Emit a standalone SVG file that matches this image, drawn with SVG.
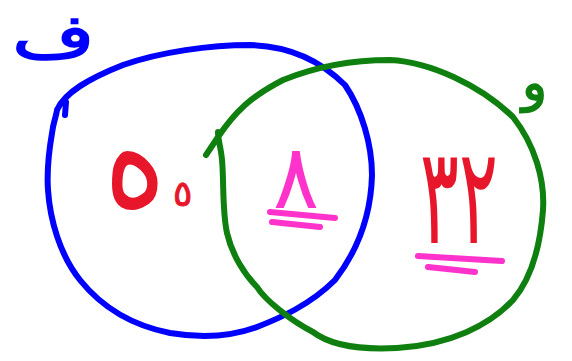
<svg xmlns="http://www.w3.org/2000/svg" width="572" height="361" viewBox="0 0 572 361">
<style>
.c{fill:none;stroke-width:6;stroke-linecap:round;stroke-linejoin:round}
.u{fill:none;stroke:#ff33cc;stroke-width:6;stroke-linecap:round}
.t{font-family:"DejaVu Sans",sans-serif;font-weight:normal}
</style>
<rect width="572" height="361" fill="#ffffff"/>
<g id="connectors">
<path id="setF" class="c" stroke="#0000ff" d="M57,110 C65,92 90,78 123,65 C160,52 210,45 250,45 C290,46 320,60 345,85 C362,110 372,145 372,175 C371,215 358,250 335,280 C310,305 280,318 257,327 C230,337 200,338 170,333 C130,325 100,305 80,280 C60,255 50,220 48,190 C46,160 52,135 53,127 C55,118 57,112 57,110 M66,102 L65,115"/>
<path id="setW" class="c" stroke="#0f800f" d="M206,155 L218,137 C235,112 250,97 283,80 C320,65 355,60 390,60 C430,62 480,85 513,117 C535,145 545,180 543,210 C540,250 530,280 513,300 C490,325 450,345 397,348 C360,350 330,345 313,332 C290,320 265,300 257,287 C245,275 232,255 227,233 C222,210 224,180 222,160 C221,148 218,140 218,132"/>
</g>
<g id="label-f"><text class="t" x="12" y="57" font-size="60" fill="#0000ff" stroke="#0000ff" stroke-width="1.5" textLength="83" lengthAdjust="spacingAndGlyphs">ف</text></g>
<g id="label-w"><text class="t" x="522" y="100" font-size="52" fill="#0f800f" stroke="#0f800f" stroke-width="1.5">و</text></g>
<g id="left-items">
<text class="t" transform="translate(104,206) scale(1,1.7)" x="0" y="0" font-size="90" fill="#e8162b" textLength="62" lengthAdjust="spacingAndGlyphs">ه</text>
<text class="t" x="173" y="206" font-size="36" fill="#e8162b" stroke="#e8162b" stroke-width="1">٥</text>
</g>
<g id="center-items">
<text class="t" x="273" y="208" font-size="90" fill="#ff33cc" textLength="46" lengthAdjust="spacingAndGlyphs">٨</text>
<path class="u" d="M270,212 L335,218 M272,222 L320,227"/>
</g>
<g id="right-items">
<text class="t" x="420" y="243" font-size="135" fill="#e8162b" textLength="78" lengthAdjust="spacingAndGlyphs">٣٢</text>
<path class="u" d="M418,256 L502,261 M428,267 L475,272"/>
</g>
</svg>
